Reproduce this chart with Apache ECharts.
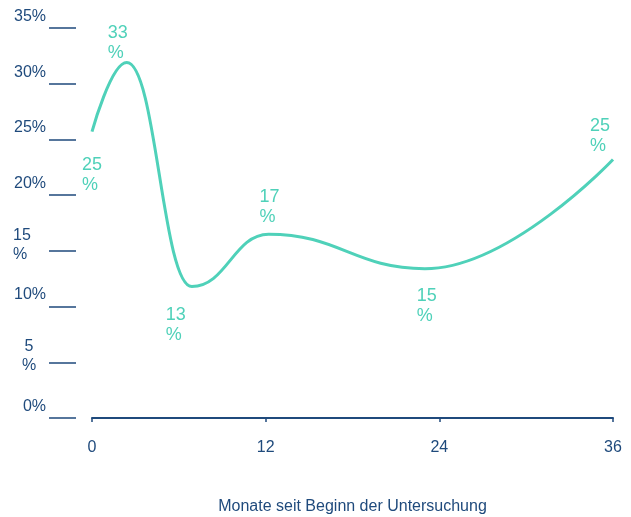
<!DOCTYPE html>
<html>
<head>
<meta charset="utf-8">
<script src="https://cdn.jsdelivr.net/npm/echarts@6/dist/echarts.min.js"></script>
<style>
  html, body { margin: 0; padding: 0; background: #fff; }
  #chart { width: 631px; height: 517px; }
</style>
</head>
<body>
<div id="chart"></div>
<script>
var months = [0, 2.4, 6.9, 12.2, 23, 36];
var shares = [25.7, 31.9, 11.8, 16.5, 13.4, 23.2];
var pointLabels = ['25\n%', '33\n%', '13\n%', '17\n%', '15\n%', '25\n%'];
var yTicks = [0, 5, 10, 15, 20, 25, 30, 35];
var yTickLabels = ['0%', '5\n%', '10%', '15\n%', '20%', '25%', '30%', '35%'];
var xTicks = [0, 12, 24, 36];
var xName = 'Monate seit Beginn der Untersuchung';

// wo die Beschriftungen neben den Punkten sitzen
var labelOffsets = [[-10, 43], [-19, -20], [-26, 39], [-9, -27], [-8, 37], [-23, -23]];

var navy = '#1f4a7c';
var teal = '#4fd1b9';
var font = '16px "Liberation Sans", Arial, sans-serif';

var chart = echarts.init(document.getElementById('chart'));

var seriesData = months.map(function (m, i) {
    return {
        value: [m, shares[i]],
        label: { offset: labelOffsets[i] }
    };
});

var option = {
    animation: false,
    textStyle: { fontFamily: 'Liberation Sans, Arial, sans-serif' },
    grid: [
        // nur fuer die kurzen Striche der y-Achse
        { left: 76, right: 18, top: 28, bottom: 99, outerBoundsMode: 'none' },
        { left: 92, right: 18, top: 28, bottom: 99, outerBoundsMode: 'none' }
    ],
    xAxis: [{
        gridIndex: 0,
        type: 'value',
        min: 0,
        max: 36,
        show: false
    }, {
        gridIndex: 1,
        type: 'value',
        min: 0,
        max: 36,
        interval: 12,
        name: xName,
        nameLocation: 'middle',
        nameGap: 81,
        nameTextStyle: { color: navy, fontSize: 16 },
        axisLine: { show: true, onZero: false, lineStyle: { color: navy, width: 2 } },
        axisTick: { show: true, length: 4, lineStyle: { color: navy, width: 1.5 } },
        axisLabel: {
            color: navy, fontSize: 16, margin: 22,
            formatter: function (v) { return xTicks.indexOf(v) >= 0 ? String(v) : ''; }
        },
        splitLine: { show: false }
    }],
    yAxis: [{
        gridIndex: 0,
        type: 'value',
        min: 0,
        max: 35,
        interval: 5,
        axisLine: { show: false },
        axisTick: { show: true, length: 27, lineStyle: { color: navy, width: 1.5 } },
        splitLine: { show: false },
        axisLabel: { show: false }
    }, {
        gridIndex: 1,
        type: 'value',
        min: 0,
        max: 35,
        interval: 5,
        show: false
    }],
    series: [{
        type: 'line',
        xAxisIndex: 1,
        yAxisIndex: 1,
        data: seriesData,
        smooth: 0.45,
        smoothMonotone: 'x',
        symbol: 'circle',
        symbolSize: 1,
        showSymbol: true,
        itemStyle: { color: 'rgba(0,0,0,0)' },
        lineStyle: { color: teal, width: 3 },
        label: {
            show: true,
            position: 'inside',
            align: 'left',
            verticalAlign: 'middle',
            color: teal,
            fontSize: 18,
            lineHeight: 20,
            formatter: function (p) { return pointLabels[p.dataIndex]; }
        }
    }]
};

chart.setOption(option);

// y-Beschriftungen: teils umgebrochen, daher als Text neben die Striche gesetzt
var yLabelGraphics = yTicks.map(function (v, i) {
    var t = yTickLabels[i];
    var py = chart.convertToPixel({ yAxisIndex: 0 }, v);
    var twoLine = t.indexOf('\n') >= 0;
    var x, align;
    if (!twoLine) { x = 46; align = 'right'; }
    else if (t.split('\n')[0].length > 1) { x = 13; align = 'left'; }
    else { x = 29; align = 'center'; }
    return {
        type: 'text',
        x: x,
        y: py - (twoLine ? 25 : 21),
        style: {
            text: t,
            font: font,
            fill: navy,
            align: align,
            verticalAlign: 'top',
            lineHeight: 19
        }
    };
});

chart.setOption({ graphic: yLabelGraphics });
</script>
</body>
</html>
